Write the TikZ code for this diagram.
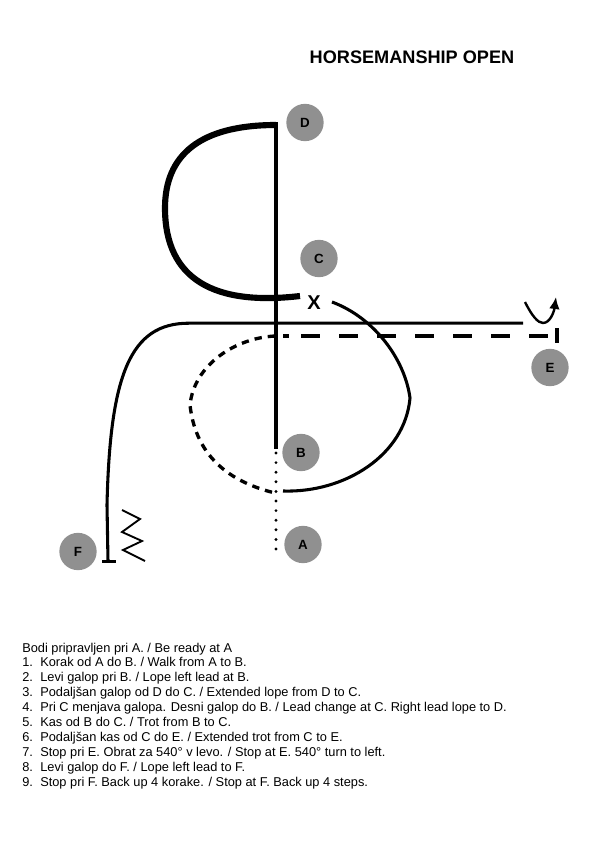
\documentclass[tikz,border=0pt]{standalone}
\usepackage{fontspec}
\setmainfont{Liberation Sans}
\usetikzlibrary{arrows.meta}
\tikzset{
  marker/.style={circle,fill=markergray,minimum size=28pt,inner sep=0pt,font=\bfseries\fontsize{10}{12}\selectfont},
  thickline/.style={line width=4.6pt},
  mainline/.style={line width=2.3pt},
  dotline/.style={line width=2.4pt,line cap=round,dash pattern=on 0pt off 7.2pt},
  shortdash/.style={line width=2.5pt,dash pattern=on 5.5pt off 4.5pt},
  longdash/.style={line width=2.5pt,dash pattern=on 14.25pt off 14.25pt},
  inst/.style={anchor=base west,inner sep=0pt,font=\fontsize{9.6}{11}\selectfont}
}
\definecolor{markergray}{RGB}{144,144,144}
\begin{document}
\begin{tikzpicture}[x=0.75pt,y=-0.75pt]
\useasboundingbox (0,0) rectangle (611,857);
\node[anchor=base,inner sep=0pt,font=\bfseries\fontsize{13.6}{16}\selectfont] (title) at (412,63) {HORSEMANSHIP OPEN};
\node[marker] (D) at (305,122.5) {D};
\node[marker] (C) at (319,258.5) {C};
\node[marker] (E) at (550,367.5) {E};
\node[marker] (B) at (301,452.5) {B};
\node[marker] (A) at (303,544.5) {A};
\node[marker] (F) at (78,551.5) {F};
\node[inner sep=0pt,font=\bfseries\fontsize{15}{17}\selectfont] (X) at (314,303) {X};
\coordinate (dtop) at (276,122);
\coordinate (bend) at (276,449);
\coordinate (dots) at (276,453);
\coordinate (aend) at (276,552);
\coordinate (thicktop) at (276,125);
\coordinate (thickleft) at (165,208);
\coordinate (thickend) at (300,296);
\coordinate (ls) at (189,323.2);
\coordinate (le) at (523,323.2);
\coordinate (fbend) at (107,505);
\coordinate (fend) at (108,561);
\coordinate (rs) at (332,302);
\coordinate (rm) at (410,398);
\coordinate (re) at (283,491);
\coordinate (ds) at (275,336);
\coordinate (de) at (551,336);
\coordinate (dl) at (190,405);
\coordinate (db) at (275,493);
% central line
\draw[mainline] (dtop) -- (bend);
\draw[dotline] (dots) -- (aend);
% extended lope
\draw[thickline] (thicktop) .. controls (200,125) and (165,155) .. (thickleft)
  .. controls (165,280) and (215,306) .. (thickend);
% horizontal and lope to F
\draw[mainline] (le) -- (ls) .. controls (130,323) and (110,375) .. (fbend) -- (fend);
\draw[mainline] (102,561.5) -- (116,561.5);
% zigzag
\draw[line width=1.4pt] (122,510) -- (140,519) -- (122,532) -- (142,541) -- (123,550) -- (145,561);
% trot circle
\draw[mainline] (rs) .. controls (375,318) and (405,360) .. (rm)
  .. controls (405,455) and (345,493) .. (re);
\draw[shortdash] (ds) .. controls (235,338) and (194,365) .. (dl)
  .. controls (195,450) and (222,480) .. (db);
% extended trot
\draw[line width=2.5pt] (283,336) -- (289,336);
\draw[longdash] (301,336) -- (de);
\draw[mainline] (557,328) -- (557,343);
% turn
\draw[line width=1.8pt,-{Latex[length=9pt,width=8pt]}] (525,302) .. controls (532,316) and (538,323) .. (543,323)
  .. controls (550,323) and (554,312) .. (556,297);
% instructions
\node[inst] (t0) at (22,652) {Bodi pripravljen pri A. / Be ready at A};
\foreach \n/\y/\s in {
 1/666.5/{Korak od A do B. / Walk from A to B.},
 2/681.5/{Levi galop pri B. / Lope left lead at B.},
 3/696.5/{Podaljšan galop od D do C. / Extended lope from D to C.},
 4/711.5/{Pri C menjava galopa. Desni galop do B. / Lead change at C. Right lead lope to D.},
 5/726.5/{Kas od B do C. / Trot from B to C.},
 6/741.5/{Podaljšan kas od C do E. / Extended trot from C to E.},
 7/756.5/{Stop pri E. Obrat za 540° v levo. / Stop at E. 540° turn to left.},
 8/771.5/{Levi galop do F. / Lope left lead to F.},
 9/786.5/{Stop pri F. Back up 4 korake. / Stop at F. Back up 4 steps.}}{
  \node[inst] (num\n) at (22,\y) {\n.};
  \node[inst] (txt\n) at (40,\y) {\s};
}
\end{tikzpicture}
\end{document}
